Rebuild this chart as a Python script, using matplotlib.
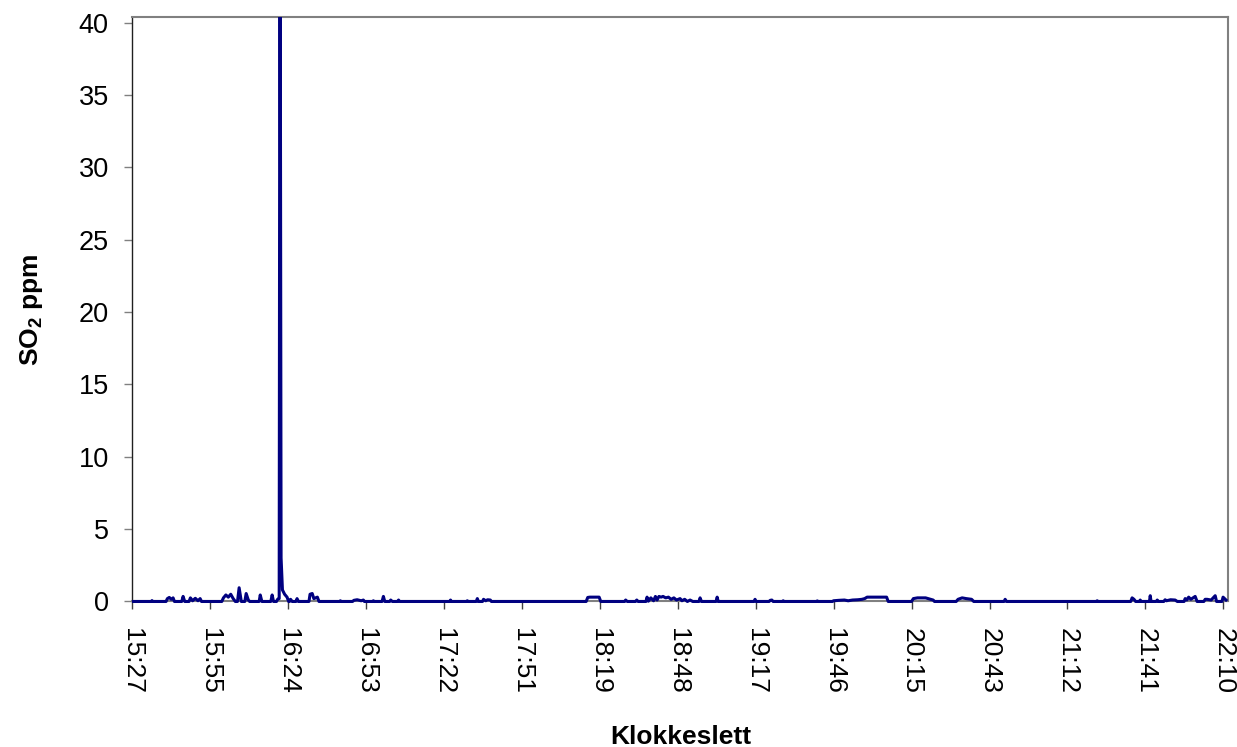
import matplotlib
matplotlib.use("Agg")
import matplotlib.pyplot as plt
from matplotlib.patches import Rectangle

plt.rcParams['font.family'] = ['Liberation Sans', 'DejaVu Sans']
plt.rcParams['mathtext.fontset'] = 'custom'
plt.rcParams['mathtext.bf'] = 'Liberation Sans:bold'
plt.rcParams['mathtext.rm'] = 'Liberation Sans'

# tid i minutter etter midnatt, SO2 i ppm
minutes = [
    927, 934.0, 934.2, 934.5,
    939.4, 939.9, 940.6, 941.3, 942.0, 942.5,
    945.2, 945.7, 946.3,
    947.9, 948.4, 949.2, 950.2, 951.2, 952.0, 952.5,
    960.0, 960.6, 961.5, 962.4, 963.3, 964.2, 965.0,
    965.8, 966.4, 967.2,
    968.5, 969.0, 969.8, 970.3,
    973.8, 974.2, 974.8,
    978.1, 978.6, 979.1,
    980.2, 980.6, 981.2, 981.5, 981.9, 982.4, 983.2, 984.1, 984.7,
    985.0, 985.4, 986.0, 987.4, 987.8, 988.3,
    992.2, 992.6, 993.4, 994.0, 995.3, 995.9,
    1003.5, 1003.8, 1004.1,
    1008.3, 1008.8, 1010.0, 1011.5, 1012.3, 1012.7,
    1015.7, 1016.0, 1016.3,
    1019.2, 1019.7, 1020.2,
    1022.0, 1022.4, 1023.0, 1024.9, 1025.3, 1025.7,
    1044.2, 1044.5, 1044.8,
    1050.4, 1050.7, 1051.0,
    1054.0, 1054.4, 1054.8,
    1056.3, 1056.7, 1057.5, 1058.2, 1059.2, 1059.6,
    1094.6, 1095.2, 1096.0, 1099.4, 1100.0,
    1108.8, 1109.2, 1109.8, 1112.8, 1113.3, 1113.8,
    1116.7, 1117.1, 1117.6, 1118.5, 1119.5, 1120.2, 1120.8, 1121.5,
    1122.3, 1123.0, 1124.0, 1125.0, 1126.0, 1127.0, 1128.0, 1129.3,
    1130.0, 1131.0, 1132.0, 1133.0, 1134.0, 1136.3, 1136.7, 1137.2,
    1142.6, 1143.0, 1143.4,
    1156.6, 1157.0, 1157.4,
    1162.2, 1162.6, 1163.2, 1163.7,
    1167.1, 1167.4, 1167.7,
    1179.7, 1180.0, 1180.3,
    1185.6, 1186.0, 1188.0, 1190.0, 1191.4, 1193.0, 1195.0, 1196.5,
    1197.5, 1198.4, 1205.6, 1206.2,
    1214.8, 1215.5, 1217.0, 1220.0, 1222.8, 1223.3,
    1231.3, 1232.0, 1233.5, 1235.0, 1237.0, 1237.8,
    1249.0, 1249.4, 1249.9,
    1283.1, 1283.4, 1283.7,
    1295.8, 1296.3, 1297.0, 1297.6,
    1299.0, 1299.3, 1299.6,
    1302.7, 1303.0, 1303.3,
    1305.2, 1305.6, 1306.0,
    1308.0, 1308.5, 1309.0, 1310.5, 1312.2, 1313.0,
    1315.5, 1315.9, 1316.5, 1317.2, 1318.0, 1319.6, 1320.3,
    1322.8, 1323.3, 1324.0, 1325.5, 1327.0, 1327.5,
    1329.5, 1329.9, 1331.0,
]
so2 = [
    0, 0, 0.06, 0,
    0, 0.2, 0.28, 0.15, 0.25, 0,
    0, 0.35, 0,
    0, 0.25, 0.05, 0.22, 0.05, 0.2, 0,
    0, 0.25, 0.45, 0.3, 0.5, 0.2, 0,
    0, 0.95, 0,
    0, 0.55, 0.1, 0,
    0, 0.45, 0,
    0, 0.45, 0,
    0, 0.15, 0.2, 55, 3.0, 0.8, 0.5, 0.3, 0,
    0, 0.15, 0, 0, 0.2, 0,
    0, 0.5, 0.55, 0.2, 0.3, 0,
    0, 0.05, 0,
    0, 0.08, 0.12, 0.05, 0.1, 0,
    0, 0.05, 0,
    0, 0.35, 0,
    0, 0.1, 0, 0, 0.1, 0,
    0, 0.1, 0,
    0, 0.05, 0,
    0, 0.2, 0,
    0, 0.15, 0.05, 0.12, 0.1, 0,
    0, 0.28, 0.3, 0.3, 0,
    0, 0.1, 0, 0, 0.1, 0,
    0, 0.3, 0.02, 0.25, 0.05, 0.35, 0.1, 0.35,
    0.3, 0.35, 0.25, 0.3, 0.15, 0.25, 0.1, 0.2,
    0.05, 0.15, 0, 0.1, 0, 0, 0.25, 0,
    0, 0.3, 0,
    0, 0.15, 0,
    0, 0.08, 0.1, 0,
    0, 0.05, 0,
    0, 0.04, 0,
    0, 0.05, 0.08, 0.1, 0.05, 0.1, 0.12, 0.15,
    0.2, 0.3, 0.3, 0,
    0, 0.2, 0.25, 0.25, 0.1, 0,
    0, 0.15, 0.25, 0.2, 0.15, 0,
    0, 0.15, 0,
    0, 0.05, 0,
    0, 0.25, 0.15, 0,
    0, 0.1, 0,
    0, 0.4, 0,
    0, 0.1, 0,
    0, 0.12, 0.05, 0.12, 0.1, 0,
    0, 0.2, 0.1, 0.3, 0.15, 0.35, 0,
    0, 0.15, 0.15, 0.1, 0.4, 0,
    0, 0.3, 0.1,
]

tick_labels = ['15:27', '15:55', '16:24', '16:53', '17:22', '17:51', '18:19',
               '18:48', '19:17', '19:46', '20:15', '20:43', '21:12', '21:41', '22:10']
t_start, t_end = 927, 1330
y_ticks = [0, 5, 10, 15, 20, 25, 30, 35, 40]

fig = plt.figure(figsize=(12.37, 7.47), dpi=100)
ax = fig.add_axes([0.1071, 0.1948, 0.8860, 0.7824])

line, = ax.plot(minutes, so2, color='#000080', linewidth=2.2, zorder=5)
# la linja ved 0 vises helt over aksen
line.set_clip_path(Rectangle((0, -0.03), 1, 1.03, transform=ax.transAxes))

step = (t_end - t_start) / (len(tick_labels) - 1)
xt = [t_start + i * step for i in range(len(tick_labels))]
ax.set_xticks(xt)
ax.set_xticklabels(tick_labels, rotation=-90, fontsize=19)
ax.set_xlim(t_start, t_end + 1.9)

ax.set_ylim(0, 40.4)
ax.set_yticks(y_ticks)
ax.set_yticklabels([str(v) for v in y_ticks], fontsize=19.5)

ax.tick_params(axis='x', direction='out', length=6, width=1, color='#404040', pad=13)
ax.tick_params(axis='y', direction='out', length=6, width=1, color='#808080', pad=11)

ax.spines['left'].set_color('#202020')
ax.spines['left'].set_linewidth(1.0)
ax.spines['bottom'].set_color('#808080')
ax.spines['bottom'].set_linewidth(1.5)
for s in ['top', 'right']:
    ax.spines[s].set_color('#808080')
    ax.spines[s].set_linewidth(1.5)

ax.set_ylabel(r'SO$_\mathbf{2}$ ppm', fontsize=19, fontweight='bold', labelpad=24)
ax.set_xlabel('Klokkeslett', fontsize=19, fontweight='bold', labelpad=22)

fig.savefig('out.png', dpi=100)
